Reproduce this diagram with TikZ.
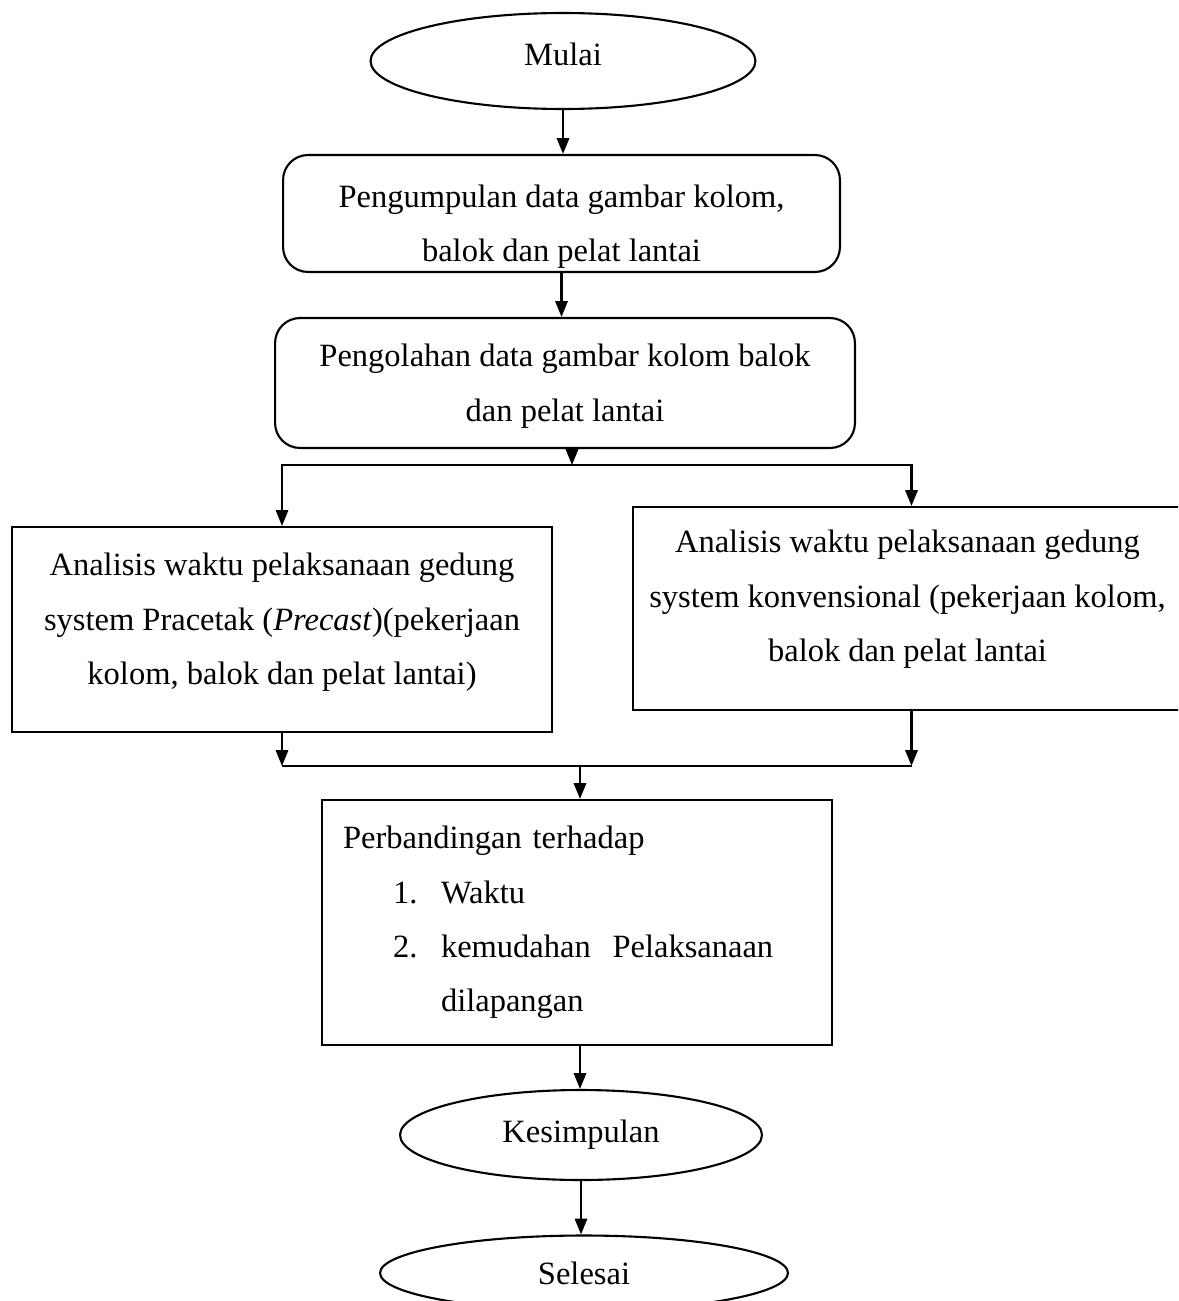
\documentclass[tikz,border=0pt]{standalone}
\usepackage{fontspec}
\setmainfont{Liberation Serif}
\usetikzlibrary{shapes.geometric,arrows.meta}
\begin{document}
\begin{tikzpicture}[x=0.02cm,y=-0.02cm,
  every node/.style={font=\fontsize{18.5}{31}\selectfont},
  ln/.style={line width=1.2pt},
  arr/.style={ln,-{Triangle[length=9pt,width=7pt]}},
  oval/.style={ln,draw,ellipse,inner sep=0pt},
  rbox/.style={ln,draw,rounded corners=0.5cm,inner sep=0pt},
  sbox/.style={ln,draw,inner sep=0pt},
  txt/.style={inner sep=0pt,align=center}]
\useasboundingbox (0,0) rectangle (1178,1301);
\clip (0,0) rectangle (1178,1301);
\fill[white] (0,0) rectangle (1178,1301);
% shapes
\node[oval,minimum width=7.7cm,minimum height=1.92cm] (mulai) at (563,61) {};
\node[rbox,minimum width=11.14cm,minimum height=2.34cm] (b1) at (561.5,213.5) {};
\node[rbox,minimum width=11.6cm,minimum height=2.6cm] (b2) at (565,383) {};
\node[sbox,minimum width=10.8cm,minimum height=4.1cm] (bL) at (282,629.5) {};
\node[sbox,minimum width=11.14cm,minimum height=4.06cm] (bR) at (911.5,608.5) {};
\node[ln,draw,inner xsep=0.42cm,inner ysep=0pt,text width=9.36cm,minimum height=4.9cm,align=left] (b3) at (577,922.5)
  {Perbandingan terhadap\\
   \hspace*{1cm}\makebox[0.96cm][l]{1.}Waktu\\
   \hspace*{1cm}\makebox[0.96cm][l]{2.}kemudahan\ \ Pelaksanaan\\
   \hspace*{1.96cm}dilapangan};
\node[oval,minimum width=7.24cm,minimum height=1.8cm] (kes) at (581,1135) {Kesimpulan};
\node[oval,minimum width=8.16cm,minimum height=1.5cm] (sel) at (584,1273) {Selesai};
% texts
\node[txt] (tmulai) at ([yshift=0.14cm]mulai.center) {Mulai};
\node[txt] (t1) at ([yshift=-0.26cm]b1.center) {Pengumpulan data gambar kolom,\\ balok dan pelat lantai};
\node[txt] (t2) at ([yshift=-0.06cm]b2.center) {Pengolahan data gambar kolom balok\\ dan pelat lantai};
\node[txt] (tL) at ([yshift=0.14cm]bL.center)
  {Analisis waktu pelaksanaan gedung\\ system Pracetak (\textit{Precast})(pekerjaan\\ kolom, balok dan pelat lantai)};
\node[txt] (tR) at ([yshift=0.18cm,xshift=-0.08cm]bR.center)
  {Analisis waktu pelaksanaan gedung\\ system konvensional (pekerjaan kolom,\\ balok dan pelat lantai};
% connectors
\coordinate (j1) at (572,465);
\coordinate (j2) at (580,766);
\draw[arr] (mulai.south) -- (mulai.south |- b1.north);
\draw[arr] (b1.south) -- (b1.south |- b2.north);
\draw[arr] (b2.south -| j1) -- (j1);
\draw[arr] (j1) -| (bL.north);
\draw[arr] (j1) -| (bR.north);
\draw[arr] (bL.south) -- (bL.south |- j2);
\draw[arr] (bR.south) -- (bR.south |- j2);
\draw[ln] (bL.south |- j2) -- (bR.south |- j2);
\draw[arr] (j2) -- (j2 |- b3.north);
\draw[arr] (b3.south -| j2) -- (j2 |- kes.north);
\draw[arr] (kes.south) -- (kes.south |- sel.north);
\end{tikzpicture}
\end{document}
